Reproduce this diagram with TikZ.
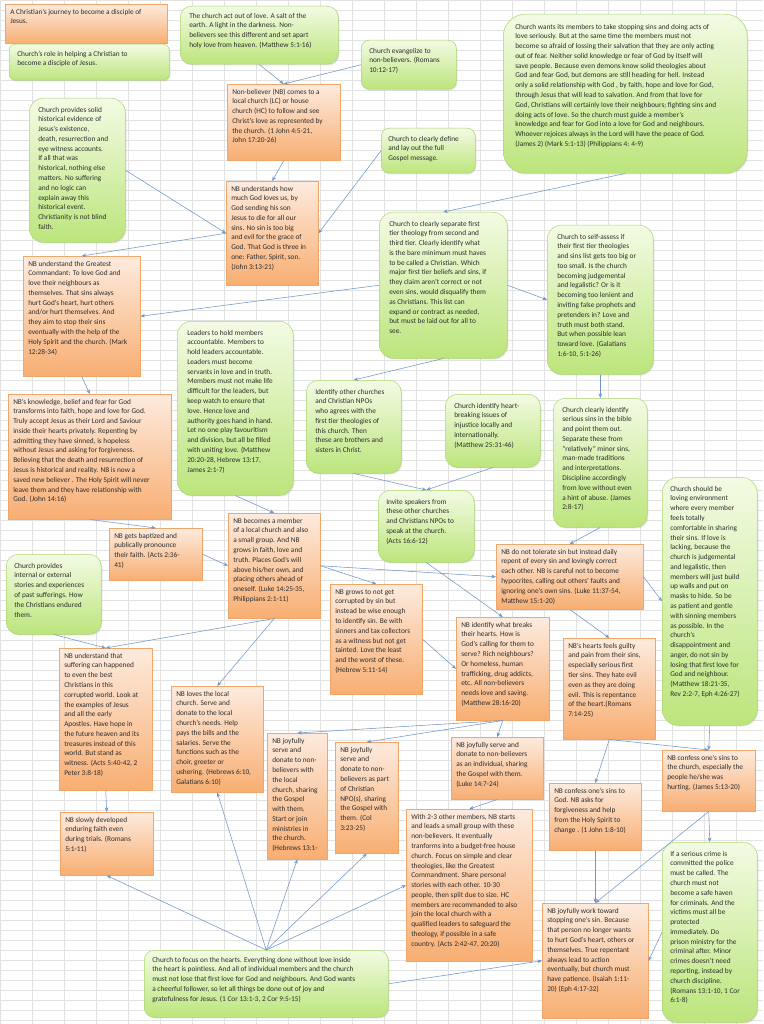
\documentclass[tikz,border=0pt]{standalone}
\usepackage{fontspec}
\setmainfont{Carlito}
\usetikzlibrary{arrows.meta,shadows}
\definecolor{obord}{RGB}{240,165,105}
\definecolor{otop}{RGB}{253,235,222}
\definecolor{obot}{RGB}{248,174,114}
\definecolor{gbord}{RGB}{172,214,112}
\definecolor{gtop}{RGB}{243,251,228}
\definecolor{gbot}{RGB}{188,229,124}
\definecolor{arr}{RGB}{112,150,205}
\definecolor{gridc}{RGB}{226,226,226}
\definecolor{txt}{RGB}{45,45,45}
\newcommand\lns[1]{\begin{tabular}[t]{@{}l@{}}#1\end{tabular}}
% name, style, x, y, w, h, xpad, ypad, text
\newcommand\bx[9]{%
 \node[#2, anchor=north west, inner xsep=#7pt, inner ysep=#8pt] (#1) at (#3,-#4)
 {\parbox[t][\dimexpr #6pt-#8pt-#8pt\relax][t]{\dimexpr #5pt-#7pt-#7pt\relax}{\lns{#9}}};}
\begin{document}
\begin{tikzpicture}[x=1pt,y=1pt,
 ob/.style={draw=obord, line width=0.5pt, top color=otop, bottom color=obot,
   drop shadow={shadow xshift=1pt,shadow yshift=-1.2pt,opacity=0.22}},
 gb/.style={draw=gbord, line width=0.5pt, rounded corners=11pt, top color=gtop, bottom color=gbot,
   drop shadow={shadow xshift=1pt,shadow yshift=-1.2pt,opacity=0.22}},
 con/.style={draw=arr, line width=0.55pt, -{Stealth[length=4.5pt,width=3.6pt]}},
 every node/.style={font=\fontsize{7.33}{9.78}\selectfont, text=txt}]
\useasboundingbox (0,0) rectangle (763,-1024);
\fill[white] (0,0) rectangle (763,-1024);
\draw[gridc, line width=0.4pt, xstep=32pt, ystep=10pt] (0,0) grid (763,-1024);

\bx{title}{ob}{5}{4}{162}{39}{5}{3}{A Christian's journey to become a disciple of\\Jesus.}
\bx{role}{gb, rounded corners=6pt}{9}{44}{160}{36}{8}{5}{Church's role in helping  a Christian to\\become a disciple of Jesus.}
\bx{solid}{gb, rounded corners=14pt}{29}{98}{96}{144}{9}{7}{Church provides solid\\historical evidence of\\Jesus's existence,\\death, resurrection  and\\eye witness accounts.\\If all that was\\historical, nothing  else\\matters.  No  suffering\\and no logic can\\explain away this\\historical event.\\Christianity is not blind\\faith.}
\bx{act}{gb}{180}{6}{158}{58}{9}{5}{The church act out of love.  A salt of the\\earth.  A light in the darkness.  Non-\\believers see this different and set apart\\holy love from  heaven.  (Matthew 5:1-16)}
\bx{evang}{gb, rounded corners=8pt}{361}{40}{95}{49}{8}{6}{Church evangelize to\\non-believers. (Romans\\10:12-17)}
\bx{comes}{ob}{227}{84}{113}{76}{5}{3}{Non-believer (NB) comes to a\\local church  (LC) or house\\church (HC)  to follow and see\\Christ's love as represented by\\the church. (1 John 4:5-21,\\John 17:20-26)}
\bx{define}{gb, rounded corners=8pt}{381}{128}{94}{45}{7}{6}{Church to clearly define\\and lay out the full\\Gospel message.}
\bx{how}{ob}{226}{181}{92}{104}{5}{3}{NB understands how\\much God loves us, by\\God sending his son\\Jesus to die for all our\\sins.  No sin is too big\\and evil for the grace of\\God. That God is three in\\one:  Father, Spirit, son.\\(John 3:13-21)}
\bx{wants}{gb, rounded corners=22pt}{503}{14}{244}{159}{12}{8}{Church wants its members  to take stopping sins and doing  acts of\\love seriously.  But at the same time the members must not\\become so afraid of lossing their salvation that they are only acting\\out of fear.  Neither solid knowledge or fear of God by itself will\\save people.  Because even demons know solid theologies about\\God and fear God, but demons  are still heading for hell.  Instead\\only a solid relationship with God , by faith, hope and love for God,\\through  Jesus that will lead to salvation.  And from that love for\\God, Christians will certainly love their neighbours; fighting sins and\\doing acts of love.  So the church must guide a member's\\knowledge and fear for God into a love for God and neighbours.\\Whoever rejoices always in the Lord will have the peace of God.\\(James 2)  (Mark 5:1-13) (Philippians 4: 4-9)}
\bx{separate}{gb, rounded corners=14pt}{379}{212}{128}{146}{10}{7}{Church to clearly separate first\\tier theology from second and\\third tier.  Clearly identify what\\is the bare minimum  must haves\\to be called a Christian.  Which\\major first tier beliefs and sins, if\\they claim aren't correct or not\\even sins, would disqualify them\\as Christians.  This list can\\expand or contract as needed,\\but must be laid out for all to\\see.}
\bx{selfas}{gb, rounded corners=14pt}{547}{225}{106}{149}{10}{7}{Church to self-assess if\\their first tier theologies\\and sins list gets too big or\\too small.  Is the church\\becoming judgemental\\and legalistic?  Or is it\\becoming too lenient and\\inviting false prophets and\\pretenders in?  Love and\\truth must both stand.\\But when possible lean\\toward love. (Galatians\\1:6-10, 5:1-26)}
\bx{greatest}{ob}{23}{256}{117}{120}{5}{3}{NB understand the Greatest\\Commandant:  To love God and\\love their neighbours as\\themselves.  That sins always\\hurt God's heart, hurt others\\and/or hurt themselves.  And\\they aim to stop their sins\\eventually with the help of the\\Holy Spirit and the church. (Mark\\12:28-34)}
\bx{knowl}{ob}{8}{394}{163}{125}{5}{3}{NB's knowledge, belief and fear for God\\transforms  into faith, hope and love for God.\\Truly accept Jesus as their Lord and Saviour\\inside their hearts privately.   Repenting by\\admitting they have sinned, is hopeless\\without  Jesus and asking for forgiveness.\\Believing that the death  and resurrection of\\Jesus is historical and reality.   NB is now a\\saved new believer .  The Holy Spirit will never\\leave them and they have relationship with\\God.  (John 14:16)}
\bx{leaders}{gb, rounded corners=14pt}{177}{321}{116}{174}{10}{7}{Leaders to hold members\\accountable.  Members to\\hold leaders accountable.\\Leaders must become\\servants in love and in truth.\\Members  must  not make life\\difficult for the leaders, but\\keep watch to ensure that\\love.   Hence love and\\authority  goes hand in hand.\\Let no one  play favouritism\\and division, but all be filled\\with uniting love. (Matthew\\20:20-28, Hebrew 13:17,\\James 2:1-7)}
\bx{identify}{gb, rounded corners=12pt}{306}{380}{95}{93}{9}{7}{Identify other churches\\and Christian NPOs\\who agrees with the\\first tier theologies of\\this church.   Then\\these are brothers  and\\sisters in Christ.}
\bx{heart}{gb, rounded corners=12pt}{445}{394}{95}{73}{9}{7}{Church identify heart-\\breaking issues of\\injustice locally and\\internationally.\\(Matthew 25:31-46)}
\bx{serious}{gb, rounded corners=12pt}{553}{398}{94}{129}{9}{7}{Church clearly identify\\serious sins in the bible\\and point them out.\\Separate these from\\``relatively'' minor sins,\\man-made traditions\\and interpretations.\\Discipline accordingly\\from love without  even\\a hint of abuse. (James\\2:8-17)}
\bx{loving}{gb, rounded corners=16pt}{662}{477}{95}{248}{8}{7}{Church should be\\loving environment\\where every member\\feels totally\\comfortable  in sharing\\their sins.  If love is\\lacking, because the\\church  is judgemental\\and legalistic, then\\members  will just build\\up walls and put on\\masks to hide.  So be\\as patient and gentle\\with sinning members\\as possible.  In the\\church's\\disappointment  and\\anger, do not sin by\\losing that first love for\\God and neighbour.\\(Matthew 18:21-35,\\Rev 2:2-7,  Eph 4:26-27)}
\bx{invite}{gb, rounded corners=12pt}{378}{490}{96}{72}{8}{7}{Invite speakers from\\these other churches\\and Christians NPOs to\\speak at the church.\\(Acts 16:6-12)}
\bx{bapt}{ob}{109}{528}{93}{52}{5}{3}{NB gets baptized and\\publically pronounce\\their faith.  (Acts 2:36-\\41)}
\bx{internal}{gb, rounded corners=12pt}{6}{554}{95}{80}{8}{7}{Church provides\\internal or external\\stories and experiences\\of past sufferings.  How\\the Christians endured\\them.}
\bx{member}{ob}{228}{513}{92}{105}{5}{3}{NB becomes a member\\of a local church  and also\\a small group.   And NB\\grows in faith, love and\\truth.    Places God's will\\above his/her own, and\\placing others ahead of\\oneself.  (Luke 14:25-35,\\Philippians 2:1-11)}
\bx{notol}{ob}{496}{544}{147}{65}{5}{3}{NB do not tolerate sin but instead daily\\repent of every sin and lovingly correct\\each other.   NB is careful not to become\\hypocrites,  calling out others' faults and\\ignoring one's own sins.  (Luke 11:37-54,\\Matthew 15:1-20)}
\bx{corrupt}{ob}{330}{584}{92}{110}{5}{3}{NB grows to not get\\corrupted  by sin but\\instead be wise enough\\to identify sin.  Be with\\sinners and tax collectors\\as a witness but not get\\tainted.  Love the least\\and the worst of these.\\(Hebrew 5:11-14)}
\bx{breaks}{ob}{456}{617}{93}{103}{5}{3}{NB identify what breaks\\their hearts.  How is\\God's calling for them to\\serve?  Rich neighbours?\\Or homeless, human\\trafficking, drug addicts,\\etc.  All non-believers\\needs love and saving.\\(Matthew  28:16-20)}
\bx{guilty}{ob}{563}{638}{92}{101}{5}{3}{NB's hearts feels guilty\\and pain from their sins,\\especially serious first\\tier sins.  They hate evil\\even as they are doing\\evil.  This is repentance\\of the heart.(Romans\\7:14-25)}
\bx{suffer}{ob}{59}{648}{93}{142}{5}{3}{NB understand that\\suffering can happened\\to even the best\\Christians in this\\corrupted  world.  Look at\\the examples of Jesus\\and all the early\\Apostles.  Have hope in\\the future  heaven and its\\treasures instead of this\\world.   But stand as\\witness. (Acts 5:40-42, 2\\Peter 3:8-18)}
\bx{loves}{ob}{171}{686}{92}{106}{5}{3}{NB loves the local\\church.  Serve and\\donate to the local\\church's needs.  Help\\pays the bills and the\\salaries.  Serve the\\functions such as the\\choir, greeter or\\ushering. (Hebrews 6:10,\\Galatians 6:10)}
\bx{joylocal}{ob}{267}{733}{60}{126}{5}{3}{NB joyfully\\serve and\\donate to non-\\believers with\\the local\\church, sharing\\the Gospel\\with them.\\Start or join\\ministries in\\the church.\\(Hebrews 13:1-}
\bx{npo}{ob}{335}{742}{63}{111}{5}{3}{NB joyfully\\serve and\\donate to non-\\believers as part\\of Christian\\NPO(s), sharing\\the Gospel with\\them.  (Col\\3:23-25)}
\bx{indiv}{ob}{451}{737}{92}{62}{5}{3}{NB joyfully serve and\\donate to non-believers\\as an individual, sharing\\the Gospel with them.\\(Luke 14:7-24)}
\bx{confch}{ob}{662}{750}{93}{61}{5}{3}{NB confess one's sins to\\the church, especially the\\people he/she was\\hurting.  (James 5:13-20)}
\bx{confgod}{ob}{549}{783}{92}{67}{5}{3}{NB confess one's sins to\\God.  NB asks for\\forgiveness and help\\from the Holy Spirit to\\change .  (1 John 1:8-10)}
\bx{slowly}{ob}{60}{812}{93}{63}{5}{3}{NB slowly developed\\enduring faith even\\during trials.  (Romans\\5:1-11)}
\bx{with}{ob}{406}{809}{126}{152}{5}{3}{With 2-3 other members,  NB starts\\and leads a small group with these\\non-believers.  It eventually\\tranforms  into a budget-free house\\church.  Focus on simple and clear\\theologies, like the Greatest\\Commandment.   Share personal\\stories with each other.  10-30\\people, then split due to size.  HC\\members are recommanded  to also\\join the local church with a\\qualified leaders to safeguard the\\theology, if possible in a safe\\country.   (Acts 2:42-47, 20:20)}
\bx{work}{ob}{542}{903}{106}{115}{5}{3}{NB joyfully work toward\\stopping one's sin.  Because\\that person no longer wants\\to hurt God's heart, others or\\themselves.  True repentant\\always lead to action\\eventually, but church must\\have patience.   (Isaiah 1:11-\\20) (Eph 4:17-32)}
\bx{crime}{gb, rounded corners=14pt}{662}{842}{95}{180}{8}{7}{If a serious crime is\\committed the police\\must be called.  The\\church must not\\become a safe haven\\for criminals.  And the\\victims must all be\\protected\\immediately.  Do\\prison ministry for the\\criminal after.  Minor\\crimes doesn't need\\reporting,  instead by\\church discipline.\\(Romans 13:1-10, 1 Cor\\6:1-8)}
\bx{hearts}{gb, rounded corners=10pt}{144}{950}{244}{67}{8}{5}{Church to focus on the hearts.  Everything  done without  love inside\\the heart is pointless.  And all of individual members  and the church\\must not lose that first love for God and neighbours.  And God wants\\a cheerful follower, so let all things be done out of joy and\\gratefulness for Jesus. (1 Cor 13:1-3, 2 Cor 9:5-15)}

\draw[con] (act.south) -- (comes.north);
\draw[con] (evang.west) -- (comes.north);
\draw[con] (comes.south) -- (how.north);
\draw[con] (solid.east) -- (how.west);
\draw[con] (define.west) -- (how.east);
\draw[con] (how.west) -- (greatest.north);
\draw[con] (separate.west) -- (greatest.east);
\draw[con] (wants.south) -- (separate.north);
\draw[con] (separate.east) -- (selfas.west);
\draw[con] (selfas.south) -- (serious.north);
\draw[con] (separate.south) -- (identify.north);
\draw[con] (identify.south) -- (invite.north);
\draw[con] (heart.south) -- (invite.north);
\draw[con] (greatest.south) -- (knowl.north);
\draw[con] (knowl.south) -- (bapt.north);
\draw[con] (bapt.east) -- (member.west);
\draw[con] (leaders.south) -- (member.north);
\draw[con] (member.east) -- (corrupt.north);
\draw[con] (member.east) -- (notol.west);
\draw[con] (invite.south) -- (breaks.north);
\draw[con] (corrupt.east) -- (breaks.west);
\draw[con] (serious.south) -- (notol.north);
\draw[con] (notol.east) -- (loving.west);
\draw[con] (notol.south) -- (guilty.north);
\draw[con] (member.south) -- (suffer.north);
\draw[con] (internal.south) -- (suffer.north);
\draw[con] (member.south) -- (loves.north);
\draw[con] (suffer.south) -- (slowly.north);
\draw[con] (breaks.south) -- (joylocal.north);
\draw[con] (breaks.south) -- (npo.north);
\draw[con] (breaks.south) -- (indiv.north);
\draw[con] (guilty.south) -- (confgod.north);
\draw[con] (guilty.south) -- (confch.north);
\draw[con] (loving.south) -- (confch.north);
\draw[con] (indiv.south) -- (with.north);
\draw[con] (confgod.south) -- (work.north);
\draw[con] (confch.south) -- (work.north);
\draw[con] (confch.south) -- (crime.north);
\draw[con] (crime.west) -- (work.east);
\draw[con] (hearts.north) -- (slowly.south);
\draw[con] (hearts.north) -- (loves.south);
\draw[con] (hearts.north) -- (joylocal.south);
\draw[con] (hearts.north) -- (npo.south);
\draw[con] (hearts.north) -- (with.west);
\draw[con] (hearts.east) -- (work.west);
\end{tikzpicture}
\end{document}
